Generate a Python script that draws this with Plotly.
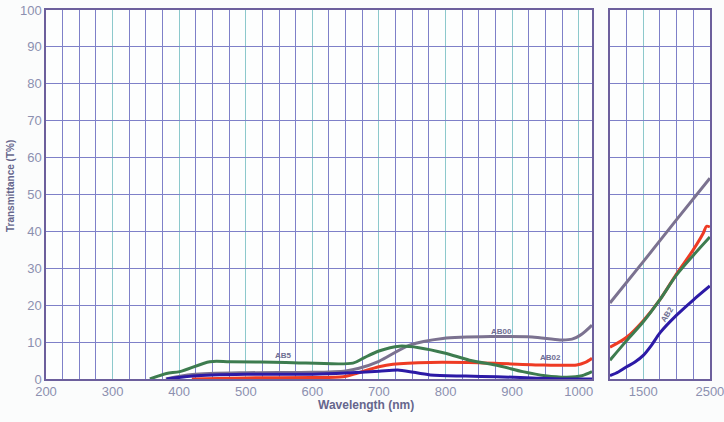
import plotly.graph_objects as go

# ---- data (wavelength nm, transmittance %) ----
ab00_x_left = [380, 420, 500, 600, 650, 670, 700, 746, 796, 871, 930, 972, 990, 1005, 1020]
ab00_y_left = [0, 1.2, 1.7, 1.8, 2.2, 2.9, 4.8, 9.2, 11.0, 11.5, 11.4, 10.6, 10.8, 12.2, 14.6]
ab02_x_left = [419, 500, 600, 646, 666, 700, 721, 777, 850, 947, 997, 1010, 1020]
ab02_y_left = [0, 0.3, 0.4, 0.6, 1.5, 3.3, 4.0, 4.5, 4.4, 3.8, 3.8, 4.5, 5.6]
ab5_x_left = [356, 381, 401, 446, 476, 560, 661, 676, 700, 731, 760, 800, 836, 880, 916, 950, 982, 1005, 1020]
ab5_y_left = [0, 1.5, 2.0, 4.7, 4.7, 4.5, 4.3, 5.6, 7.6, 8.9, 8.5, 7.0, 5.1, 3.6, 2.0, 0.9, 0.5, 0.9, 2.0]
ab2_x_left = [381, 420, 450, 500, 600, 650, 700, 731, 777, 830, 877, 930, 972, 1020]
ab2_y_left = [0, 0.8, 1.1, 1.3, 1.3, 1.6, 2.1, 2.4, 1.1, 0.8, 0.6, 0.3, 0.0, 0.0]

ab00_x_right = [1000, 1500, 2000, 2500]
ab00_y_right = [20.6, 31.8, 43.2, 54.4]
ab02_x_right = [1000, 1250, 1500, 1750, 2000, 2250, 2400, 2450, 2500]
ab02_y_right = [8.6, 11.3, 15.8, 21.5, 28.5, 35.0, 39.5, 41.4, 41.2]
ab5_x_right = [1000, 1250, 1500, 1750, 2000, 2250, 2500]
ab5_y_right = [5.1, 10.4, 15.5, 21.5, 28.2, 33.5, 38.5]
ab2_x_right = [1000, 1125, 1250, 1375, 1500, 1625, 1750, 2000, 2250, 2500]
ab2_y_right = [0.9, 1.9, 3.3, 4.6, 6.4, 9.2, 12.5, 17.3, 21.4, 25.2]

y_ticks = [0, 10, 20, 30, 40, 50, 60, 70, 80, 90, 100]
x_ticks_left = [200, 300, 400, 500, 600, 700, 800, 900, 1000]
x_ticks_right = [1500, 2500]

col_ab00 = "#7b7290"
col_ab02 = "#ee3b24"
col_ab5 = "#3d7c4f"
col_ab2 = "#2c1aa6"
teal = "#8cc8cc"
purple = "#7e80c8"
border = "#6c5f9c"
tickc = "#8c90b0"
titlec = "#66668c"

fig = go.Figure()

def add(x, y, c, xa):
    fig.add_trace(go.Scatter(x=x, y=y, mode="lines", xaxis=xa, yaxis="y" if xa == "x" else "y2",
                             line=dict(color=c, width=3, shape="spline", smoothing=0.8),
                             showlegend=False, hoverinfo="skip"))

# order: gray, red, green, blue
add(ab00_x_left, ab00_y_left, col_ab00, "x")
add(ab02_x_left, ab02_y_left, col_ab02, "x")
add(ab5_x_left, ab5_y_left, col_ab5, "x")
add(ab2_x_left, ab2_y_left, col_ab2, "x")
add(ab00_x_right, ab00_y_right, col_ab00, "x2")
add(ab02_x_right, ab02_y_right, col_ab02, "x2")
add(ab5_x_right, ab5_y_right, col_ab5, "x2")
add(ab2_x_right, ab2_y_right, col_ab2, "x2")

W, H = 724, 422
l, r, t, b = 46, 14, 10, 43
pw = W - l - r
ph = H - t - b
d1 = (592 - l) / pw
d2 = (610 - l) / pw

def px_x(p):
    return (p - l) / pw

def px_y(p):
    return (H - b - p) / ph

common = dict(showline=True, linecolor=border, linewidth=1.5, mirror=True, zeroline=False,
              ticks="", automargin=False, tickfont=dict(size=13, color=tickc), ticklabeloverflow="allow")

fig.update_layout(
    width=W, height=H,
    margin=dict(l=l, r=r, t=t, b=b, autoexpand=False),
    paper_bgcolor="#fbfcfc", plot_bgcolor="#fdfefe",
    font=dict(family="Liberation Sans, Arial, sans-serif", color=tickc, size=13),
    xaxis=dict(domain=[0, d1], range=[200, 1020], tickvals=x_ticks_left, ticklabelstandoff=0,
               showgrid=True, gridcolor=teal, gridwidth=1,
               minor=dict(tickmode="linear", tick0=200, dtick=25, showgrid=True, gridcolor=purple, gridwidth=1),
               **common),
    xaxis2=dict(domain=[d2, 1], range=[1000, 2502], tickvals=x_ticks_right, ticklabelstandoff=0,
                showgrid=True, gridcolor=teal, gridwidth=1,
                minor=dict(tickmode="linear", tick0=1000, dtick=250, showgrid=True, gridcolor=purple, gridwidth=1),
                anchor="y2", **common),
    yaxis=dict(range=[0, 100], tickvals=y_ticks, showgrid=True, gridcolor=purple, gridwidth=1, **common),
    yaxis2=dict(range=[0, 100], tickvals=y_ticks, showticklabels=False, showgrid=True, gridcolor=purple,
                gridwidth=1, anchor="x2", **common),
)

fig.add_annotation(text="<b>Wavelength (nm)</b>", xref="paper", yref="paper", x=px_x(366), y=px_y(405),
                   showarrow=False, font=dict(size=12, color=titlec),
                   xanchor="center", yanchor="middle")
fig.add_annotation(text="<b>Transmittance (T%)</b>", xref="paper", yref="paper", x=px_x(10), y=px_y(186),
                   showarrow=False, textangle=-90,
                   font=dict(size=10, color=titlec),
                   xanchor="center", yanchor="middle")

lab = dict(size=8, color="#6e6e92")
fig.add_annotation(text="<b>AB5</b>", x=556, y=6.3, xref="x", yref="y", showarrow=False, font=lab)
fig.add_annotation(text="<b>AB00</b>", x=884, y=13.0, xref="x", yref="y", showarrow=False, font=lab)
fig.add_annotation(text="<b>AB02</b>", x=957, y=5.7, xref="x", yref="y", showarrow=False, font=lab)
fig.add_annotation(text="<b>AB2</b>", x=1860, y=17.5, xref="x2", yref="y2", showarrow=False, font=lab,
                   textangle=-58)

fig.write_html("out.html", config={"displayModeBar": False},
               post_script="document.body.style.margin='0';document.body.style.overflow='hidden';")
